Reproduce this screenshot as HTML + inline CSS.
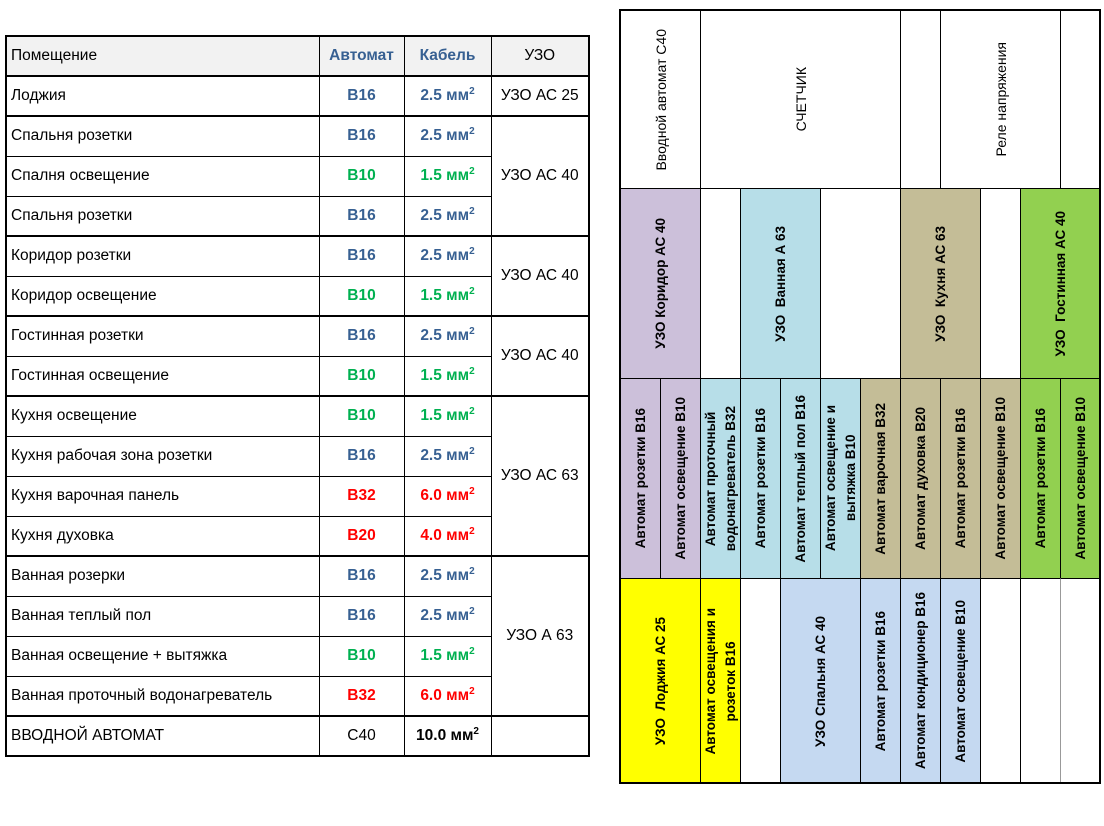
<!DOCTYPE html>
<html><head><meta charset="utf-8"><style>
body{margin:0;width:1104px;height:826px;background:#fff;position:relative;overflow:hidden;font-family:"Liberation Sans",Arial,sans-serif}
table{position:absolute;left:5px;top:35px;border-collapse:collapse;table-layout:fixed;width:583px;border:2px solid #000;font-size:15.5px}
tr{height:40px}
td{border:1px solid #000;height:38px;padding:0;white-space:nowrap;overflow:hidden;line-height:18px}
td.n{padding-left:4px}
td.c{text-align:center}
tr.g td{border-top:2px solid #000}
.b{color:#376092;font-weight:bold}.gr{color:#00b050;font-weight:bold}.r{color:#ff0000;font-weight:bold}
.bb{font-weight:bold}
sup{font-size:10px;vertical-align:6px;line-height:0}
.k{position:absolute;box-sizing:border-box;border:1px solid #000;display:flex;align-items:center;justify-content:center}
.k span{writing-mode:vertical-rl;transform:rotate(180deg);font-size:13.5px;font-weight:bold;text-align:center;line-height:20px;white-space:nowrap}
.k span.t{font-weight:normal;font-size:14px}
.P{background:#ccc0da}.L{background:#b7dee8}.T{background:#c4bd97}.G{background:#92d050}.Y{background:#ffff00}.S{background:#c5d9f1}
#frame{position:absolute;left:619px;top:9px;width:482px;height:775px;border:2px solid #000;box-sizing:border-box}
</style></head><body>
<table>
<colgroup><col style="width:313px"><col style="width:85px"><col style="width:87px"><col style="width:98px"></colgroup>
<tr style="background:#f2f2f2"><td class="n">Помещение</td><td class="c b">Автомат</td><td class="c b">Кабель</td><td class="c">УЗО</td></tr>
<tr class="g"><td class="n">Лоджия</td><td class="c b">B16</td><td class="c b">2.5 мм<sup>2</sup></td><td class="c">УЗО АС 25</td></tr>
<tr class="g"><td class="n">Спальня розетки</td><td class="c b">B16</td><td class="c b">2.5 мм<sup>2</sup></td><td class="c" rowspan="3">УЗО АС 40</td></tr>
<tr><td class="n">Спалня освещение</td><td class="c gr">B10</td><td class="c gr">1.5 мм<sup>2</sup></td></tr>
<tr><td class="n">Спальня розетки</td><td class="c b">B16</td><td class="c b">2.5 мм<sup>2</sup></td></tr>
<tr class="g"><td class="n">Коридор розетки</td><td class="c b">B16</td><td class="c b">2.5 мм<sup>2</sup></td><td class="c" rowspan="2">УЗО АС 40</td></tr>
<tr><td class="n">Коридор освещение</td><td class="c gr">B10</td><td class="c gr">1.5 мм<sup>2</sup></td></tr>
<tr class="g"><td class="n">Гостинная розетки</td><td class="c b">B16</td><td class="c b">2.5 мм<sup>2</sup></td><td class="c" rowspan="2">УЗО АС 40</td></tr>
<tr><td class="n">Гостинная освещение</td><td class="c gr">B10</td><td class="c gr">1.5 мм<sup>2</sup></td></tr>
<tr class="g"><td class="n">Кухня освещение</td><td class="c gr">B10</td><td class="c gr">1.5 мм<sup>2</sup></td><td class="c" rowspan="4">УЗО АС 63</td></tr>
<tr><td class="n">Кухня рабочая зона розетки</td><td class="c b">B16</td><td class="c b">2.5 мм<sup>2</sup></td></tr>
<tr><td class="n">Кухня варочная панель</td><td class="c r">B32</td><td class="c r">6.0 мм<sup>2</sup></td></tr>
<tr><td class="n">Кухня духовка</td><td class="c r">B20</td><td class="c r">4.0 мм<sup>2</sup></td></tr>
<tr class="g"><td class="n">Ванная розерки</td><td class="c b">B16</td><td class="c b">2.5 мм<sup>2</sup></td><td class="c" rowspan="4">УЗО А 63</td></tr>
<tr><td class="n">Ванная теплый пол</td><td class="c b">B16</td><td class="c b">2.5 мм<sup>2</sup></td></tr>
<tr><td class="n">Ванная освещение + вытяжка</td><td class="c gr">B10</td><td class="c gr">1.5 мм<sup>2</sup></td></tr>
<tr><td class="n">Ванная проточный водонагреватель</td><td class="c r">B32</td><td class="c r">6.0 мм<sup>2</sup></td></tr>
<tr class="g"><td class="n">ВВОДНОЙ АВТОМАТ</td><td class="c">C40</td><td class="c bb">10.0 мм<sup>2</sup></td><td></td></tr>
</table>

<div class="k" style="left:620px;top:10px;width:81px;height:179px"><span class="t">Вводной автомат С40</span></div>
<div class="k" style="left:700px;top:10px;width:201px;height:179px"><span class="t">СЧЕТЧИК</span></div>
<div class="k" style="left:900px;top:10px;width:41px;height:179px"></div>
<div class="k" style="left:940px;top:10px;width:121px;height:179px"><span class="t">Реле напряжения</span></div>
<div class="k" style="left:1060px;top:10px;width:41px;height:179px"></div>
<div class="k P" style="left:620px;top:188px;width:81px;height:191px"><span>УЗО Коридор АС 40</span></div>
<div class="k" style="left:700px;top:188px;width:41px;height:191px"></div>
<div class="k L" style="left:740px;top:188px;width:81px;height:191px"><span>УЗО&nbsp; Ванная А 63</span></div>
<div class="k" style="left:820px;top:188px;width:81px;height:191px"></div>
<div class="k T" style="left:900px;top:188px;width:81px;height:191px"><span>УЗО&nbsp; Кухня АС 63</span></div>
<div class="k" style="left:980px;top:188px;width:41px;height:191px"></div>
<div class="k G" style="left:1020px;top:188px;width:81px;height:191px"><span>УЗО&nbsp; Гостинная АС 40</span></div>
<div class="k P" style="left:620px;top:378px;width:41px;height:201px"><span>Автомат розетки В16</span></div>
<div class="k P" style="left:660px;top:378px;width:41px;height:201px"><span>Автомат освещение В10</span></div>
<div class="k L" style="left:700px;top:378px;width:41px;height:201px"><span>Автомат проточный<br>водонагреватель В32</span></div>
<div class="k L" style="left:740px;top:378px;width:41px;height:201px"><span>Автомат розетки В16</span></div>
<div class="k L" style="left:780px;top:378px;width:41px;height:201px"><span>Автомат теплый пол В16</span></div>
<div class="k L" style="left:820px;top:378px;width:41px;height:201px"><span>Автомат освещение и<br>вытяжка В10</span></div>
<div class="k T" style="left:860px;top:378px;width:41px;height:201px"><span>Автомат варочная В32</span></div>
<div class="k T" style="left:900px;top:378px;width:41px;height:201px"><span>Автомат духовка В20</span></div>
<div class="k T" style="left:940px;top:378px;width:41px;height:201px"><span>Автомат розетки В16</span></div>
<div class="k T" style="left:980px;top:378px;width:41px;height:201px"><span>Автомат освещение В10</span></div>
<div class="k G" style="left:1020px;top:378px;width:41px;height:201px"><span>Автомат розетки В16</span></div>
<div class="k G" style="left:1060px;top:378px;width:41px;height:201px"><span>Автомат освещение В10</span></div>
<div class="k Y" style="left:620px;top:578px;width:81px;height:206px"><span>УЗО&nbsp; Лоджия АС 25</span></div>
<div class="k Y" style="left:700px;top:578px;width:41px;height:206px"><span>Автомат освещения и<br>розеток В16</span></div>
<div class="k" style="left:740px;top:578px;width:41px;height:206px"></div>
<div class="k S" style="left:780px;top:578px;width:81px;height:206px"><span>УЗО Спальня АС 40</span></div>
<div class="k S" style="left:860px;top:578px;width:41px;height:206px"><span>Автомат розетки В16</span></div>
<div class="k S" style="left:900px;top:578px;width:41px;height:206px"><span>Автомат кондиционер В16</span></div>
<div class="k S" style="left:940px;top:578px;width:41px;height:206px"><span>Автомат освещение В10</span></div>
<div class="k" style="left:980px;top:578px;width:41px;height:206px"></div>
<div class="k" style="left:1020px;top:578px;width:41px;height:206px"></div>
<div class="k" style="left:1060px;top:578px;width:41px;height:206px;border-left-color:#999"></div>
<div id="frame"></div>
</body></html>
